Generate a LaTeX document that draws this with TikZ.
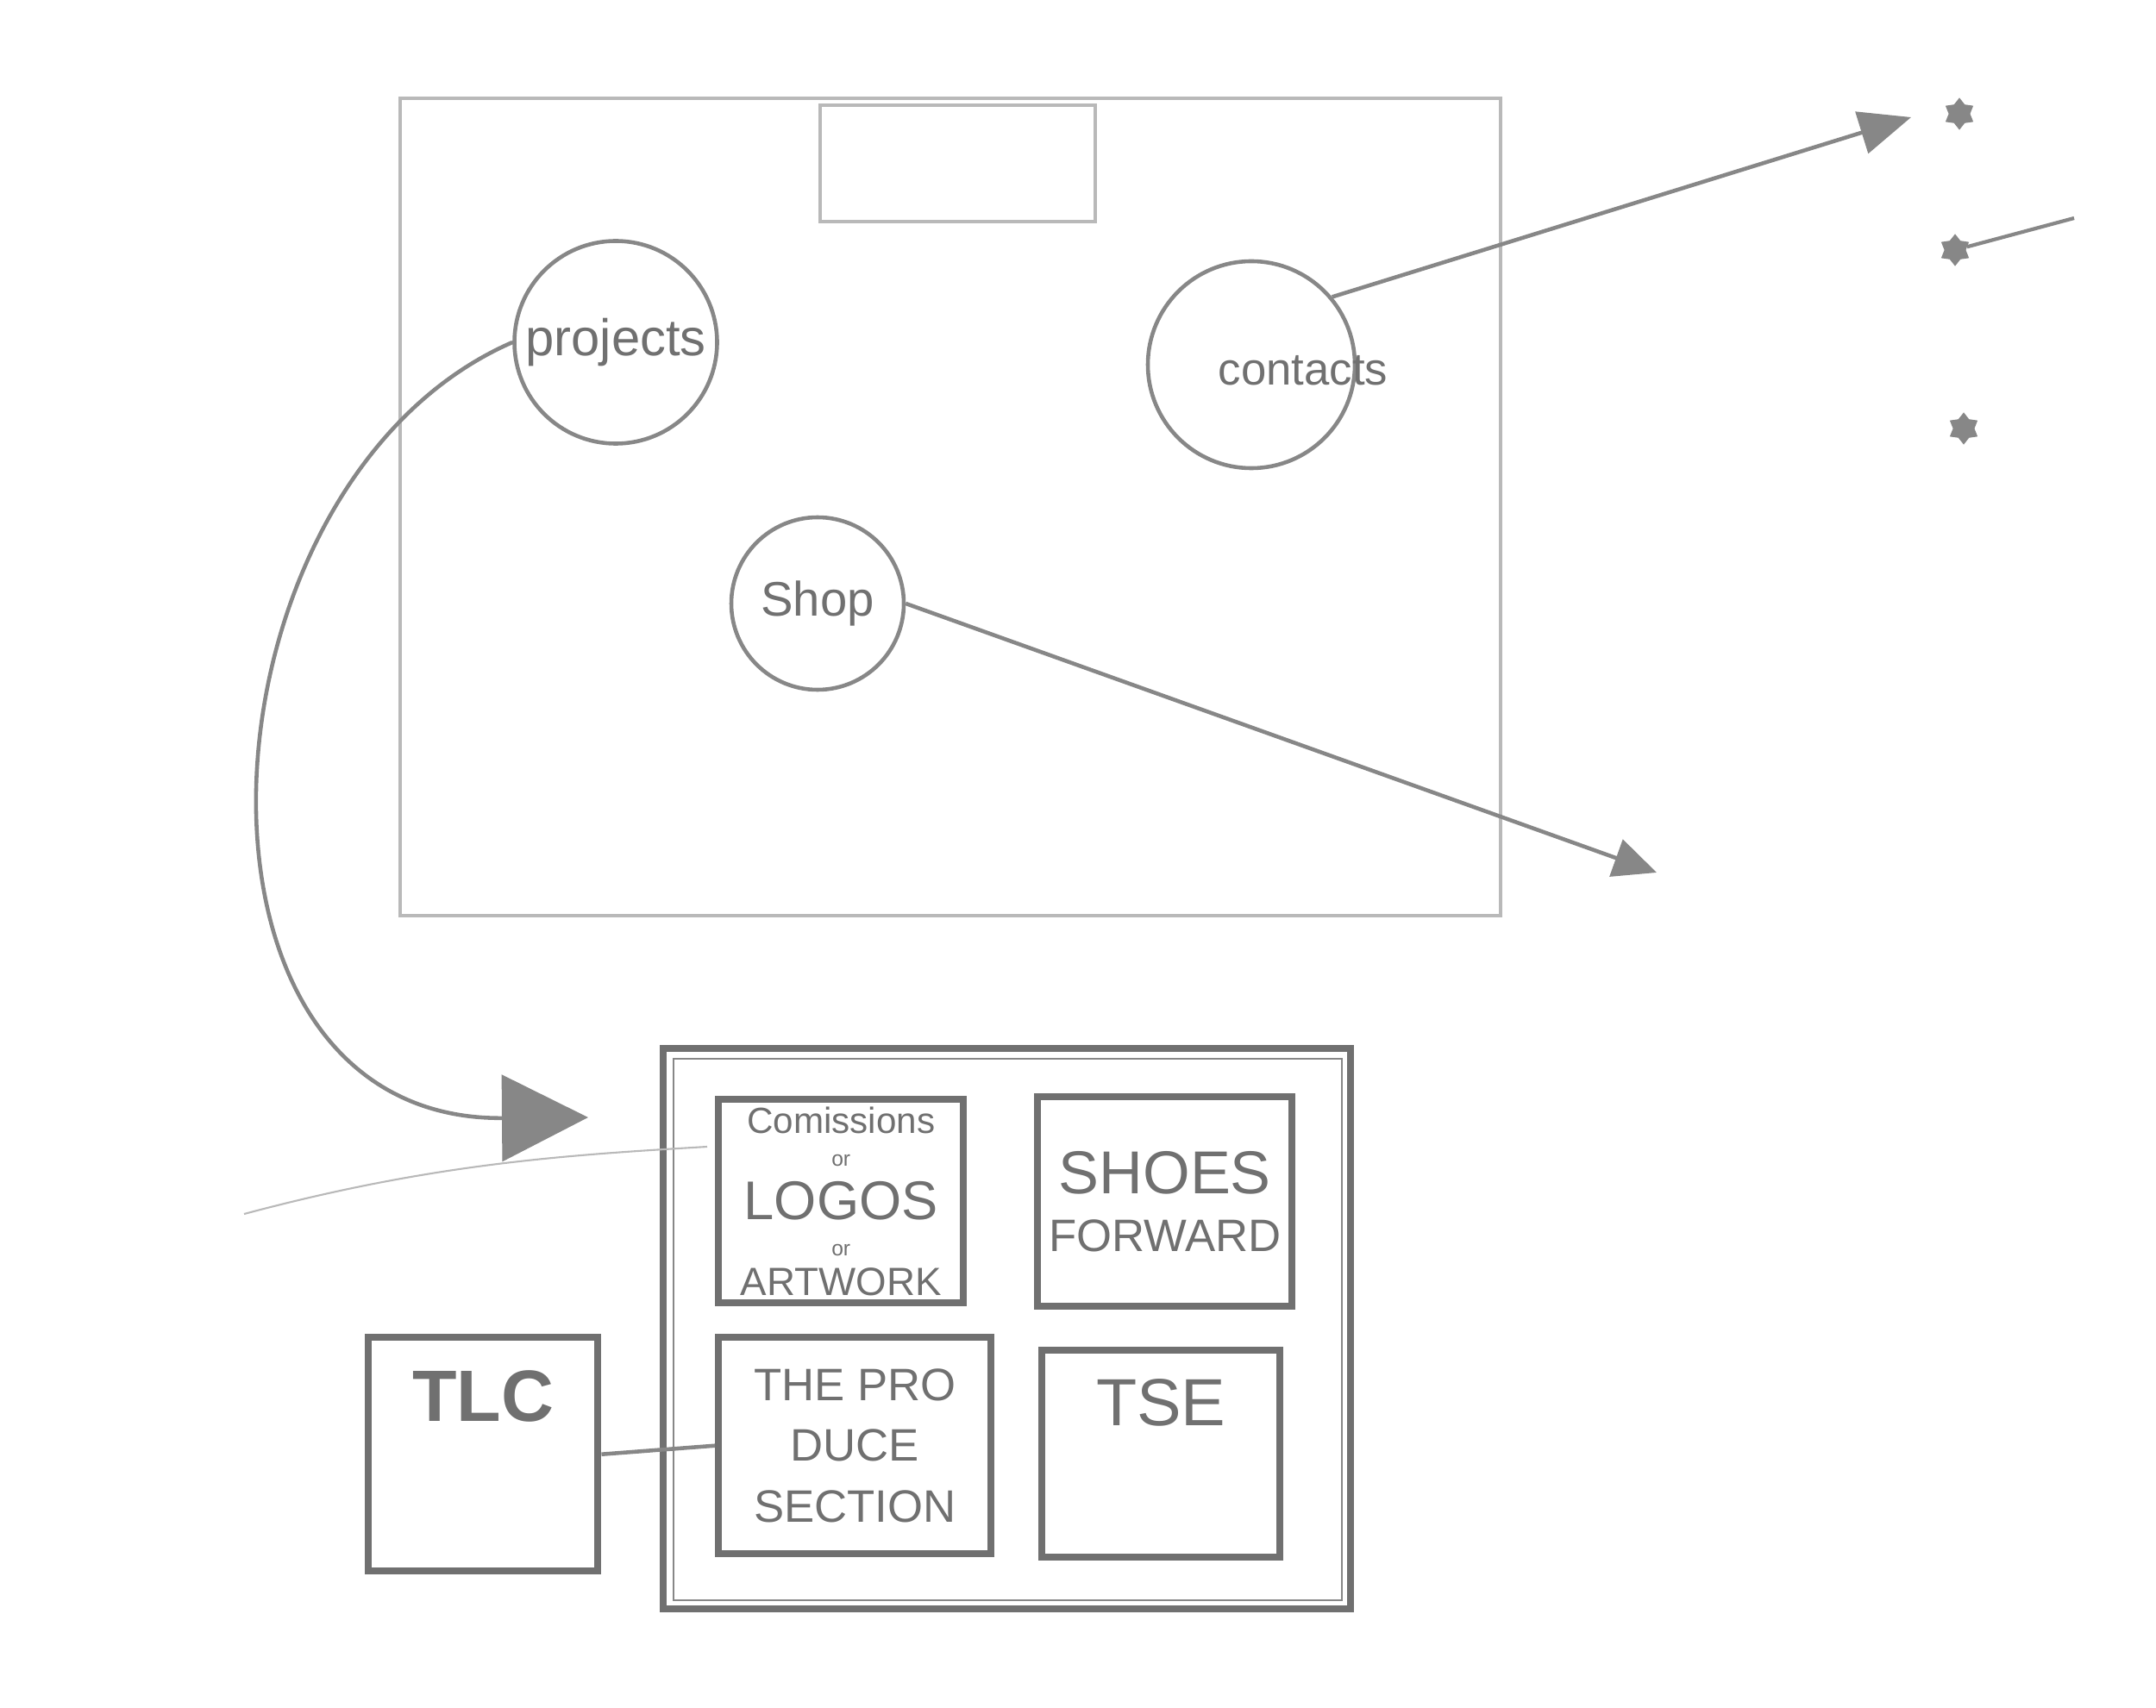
\documentclass[tikz,border=0pt]{standalone}
\usepackage{fontspec}
\setmainfont{Liberation Sans}
\usepackage{tikz}
\usetikzlibrary{shapes.geometric, arrows.meta, positioning, calc}
\definecolor{pencil}{RGB}{135,135,135}
\definecolor{softpencil}{RGB}{185,185,185}
\definecolor{darkpencil}{RGB}{112,112,112}

\begin{document}
\begin{tikzpicture}[
    bubble/.style={circle, draw=pencil, line width=1.3pt, inner sep=0pt,
                   text=darkpencil, align=center},
    frame/.style={rectangle, draw=softpencil, line width=1pt, anchor=north west},
    tile/.style={rectangle, draw=darkpencil, line width=2.4pt, inner sep=0pt,
                 anchor=north west, text=darkpencil, align=center},
    hand/.style={text=darkpencil, align=center},
    arrow/.style={-{Triangle[length=6mm, width=5mm]}, pencil, line width=1.3pt},
    bullet/.style={star, star points=6, draw=pencil, fill=pencil,
                   minimum size=3.5mm, inner sep=0pt}
  ]
    \useasboundingbox (0,0) rectangle (25,-19.81);

    % home page sketch
    \node[frame, minimum width=12.76cm, minimum height=9.48cm] at (4.62,-1.12) (home) {};
    \node[frame, minimum width=3.19cm, minimum height=1.35cm] at (9.49,-1.20) (banner) {};
    \node[bubble, minimum size=2.35cm] at (7.14,-3.97) (projects)
      {\fontsize{17}{20}\selectfont projects};
    \node[bubble, minimum size=2.4cm,
          label={[hand, xshift=6mm, yshift=-0.7mm, font=\fontsize{15}{18}\selectfont]center:contacts}]
      at (14.51,-4.23) (contacts) {};
    \node[bubble, minimum size=2.0cm] at (9.48,-7.00) (shop)
      {\fontsize{16}{19}\selectfont Shop};

    % marks on the right
    \node[bullet] at (22.72,-1.32) (markA) {};
    \node[bullet] at (22.67,-2.90) (markB) {};
    \node[bullet] at (22.77,-4.97) (markC) {};
    \coordinate (markBend) at (24.05,-2.53);
    \draw[pencil, line width=1.2pt] (markB) -- (markBend);

    % projects page sketch
    \node[rectangle, draw=darkpencil, line width=2.2pt, minimum width=7.97cm,
          minimum height=6.50cm, anchor=north west] at (7.65,-12.12) (grid) {};
    \draw[pencil, line width=0.7pt] ($(grid.north west)+(0.16,-0.16)$)
      rectangle ($(grid.south east)+(-0.14,0.14)$);
    \node[tile, minimum width=2.84cm, minimum height=2.36cm, font=\fontsize{12}{12}\selectfont]
      at (8.29,-12.71) (commissions)
      {{\fontsize{12}{12}\selectfont Comissions}\\[-1pt]
       {\fontsize{7}{7}\selectfont or}\\[4pt]
       {\fontsize{18}{12}\selectfont LOGOS}\\
       {\fontsize{7}{7}\selectfont or}\\[1pt]
       {\fontsize{13}{12}\selectfont ARTWORK}};
    \node[tile, minimum width=2.95cm, minimum height=2.43cm, font=\fontsize{15}{16}\selectfont]
      at (11.99,-12.68) (shoes)
      {{\fontsize{20}{16}\selectfont SHOES}\\[1mm] FORWARD};
    \node[tile, minimum width=3.16cm, minimum height=2.51cm, font=\fontsize{15}{20}\selectfont]
      at (8.29,-15.47) (produce)
      {THE PRO\\DUCE\\SECTION};
    \node[tile, minimum width=2.76cm, minimum height=2.40cm,
          label={[hand, anchor=north, yshift=-2.5mm, font=\fontsize{22}{24}\selectfont]north:TSE}]
      at (12.04,-15.62) (tse) {};
    \node[tile, minimum width=2.66cm, minimum height=2.71cm,
          label={[hand, anchor=north, yshift=-3mm, font=\fontsize{24}{26}\selectfont\bfseries]north:TLC}]
      at (4.23,-15.47) (tlc) {};
    \draw[pencil, line width=1.3pt] (tlc.east) -- (produce.west);

    % stray guide line
    \draw[softpencil, line width=0.6pt] (2.83,-14.08) .. controls (5.00,-13.50) and (6.50,-13.40) .. (8.20,-13.30);

    % links
    \coordinate (contactsout) at (22.16,-1.36);
    \coordinate (shopout) at (19.21,-10.12);
    \coordinate (projectsin) at (6.82,-12.96);
    \draw[arrow] (contacts.40) -- (contactsout);
    \draw[arrow, -{Triangle[length=5mm, width=4.5mm]}] (shop.east) -- (shopout);
    \draw[arrow, -{Triangle[length=10mm, width=10mm]}] (projects.west)
      .. controls (2.20,-5.60) and (1.80,-13.00) .. (projectsin);
  \end{tikzpicture}
\end{document}
